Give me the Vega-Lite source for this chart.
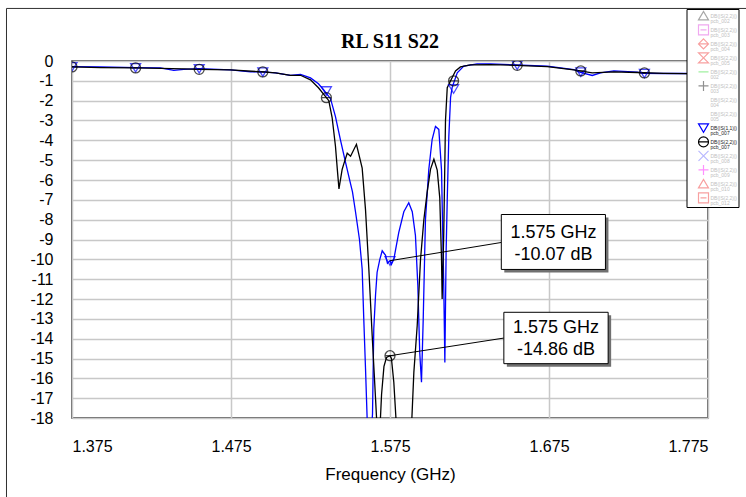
{
  "$schema": "https://vega.github.io/schema/vega-lite/v6.json",
  "width": 636,
  "height": 357,
  "autosize": "none",
  "padding": {"left": 72, "top": 61, "right": 38, "bottom": 79},
  "background": "white",
  "title": {"text": "RL S11 S22", "font": "Liberation Serif", "fontSize": 20, "fontWeight": "bold", "color": "black", "anchor": "middle", "offset": 8, "dy": 52},
  "datasets": {
    "curves": [
      {"s":"S11 pcb_007","f":1.375,"db":-0.28},{"s":"S11 pcb_007","f":1.3929,"db":-0.3},{"s":"S11 pcb_007","f":1.4149,"db":-0.33},{"s":"S11 pcb_007","f":1.4306,"db":-0.35},{"s":"S11 pcb_007","f":1.439,"db":-0.47},{"s":"S11 pcb_007","f":1.4453,"db":-0.42},{"s":"S11 pcb_007","f":1.4546,"db":-0.38},{"s":"S11 pcb_007","f":1.4747,"db":-0.45},{"s":"S11 pcb_007","f":1.4873,"db":-0.55},{"s":"S11 pcb_007","f":1.4948,"db":-0.55},{"s":"S11 pcb_007","f":1.503,"db":-0.6},{"s":"S11 pcb_007","f":1.5124,"db":-0.72},{"s":"S11 pcb_007","f":1.5187,"db":-0.68},{"s":"S11 pcb_007","f":1.525,"db":-0.85},{"s":"S11 pcb_007","f":1.53,"db":-1.15},{"s":"S11 pcb_007","f":1.5332,"db":-1.45},{"s":"S11 pcb_007","f":1.5376,"db":-1.9},{"s":"S11 pcb_007","f":1.5407,"db":-2.8},{"s":"S11 pcb_007","f":1.5439,"db":-4.0},{"s":"S11 pcb_007","f":1.547,"db":-5.1},{"s":"S11 pcb_007","f":1.5502,"db":-6.2},{"s":"S11 pcb_007","f":1.5514,"db":-6.6},{"s":"S11 pcb_007","f":1.5533,"db":-7.6},{"s":"S11 pcb_007","f":1.5558,"db":-9.0},{"s":"S11 pcb_007","f":1.5575,"db":-10.5},{"s":"S11 pcb_007","f":1.5585,"db":-13.0},{"s":"S11 pcb_007","f":1.5596,"db":-15.5},{"s":"S11 pcb_007","f":1.5607,"db":-18.2},{"s":"S11 pcb_007","f":1.5621,"db":-20},{"s":"S11 pcb_007","f":1.564,"db":-17.8},{"s":"S11 pcb_007","f":1.5648,"db":-13.5},{"s":"S11 pcb_007","f":1.5659,"db":-11.8},{"s":"S11 pcb_007","f":1.5669,"db":-10.65},{"s":"S11 pcb_007","f":1.5686,"db":-10.0},{"s":"S11 pcb_007","f":1.5701,"db":-9.57},{"s":"S11 pcb_007","f":1.5722,"db":-9.8},{"s":"S11 pcb_007","f":1.5734,"db":-10.2},{"s":"S11 pcb_007","f":1.575,"db":-10.07},{"s":"S11 pcb_007","f":1.5759,"db":-10.25},{"s":"S11 pcb_007","f":1.5774,"db":-10.0},{"s":"S11 pcb_007","f":1.5805,"db":-8.65},{"s":"S11 pcb_007","f":1.5837,"db":-7.6},{"s":"S11 pcb_007","f":1.5868,"db":-7.15},{"s":"S11 pcb_007","f":1.589,"db":-7.6},{"s":"S11 pcb_007","f":1.591,"db":-8.8},{"s":"S11 pcb_007","f":1.5925,"db":-11.3},{"s":"S11 pcb_007","f":1.5937,"db":-14.7},{"s":"S11 pcb_007","f":1.5948,"db":-16.2},{"s":"S11 pcb_007","f":1.5959,"db":-13.0},{"s":"S11 pcb_007","f":1.5973,"db":-8.0},{"s":"S11 pcb_007","f":1.5994,"db":-5.47},{"s":"S11 pcb_007","f":1.6015,"db":-3.96},{"s":"S11 pcb_007","f":1.6036,"db":-3.3},{"s":"S11 pcb_007","f":1.6057,"db":-3.45},{"s":"S11 pcb_007","f":1.6074,"db":-5.5},{"s":"S11 pcb_007","f":1.6088,"db":-11.3},{"s":"S11 pcb_007","f":1.6095,"db":-15.2},{"s":"S11 pcb_007","f":1.6103,"db":-9.6},{"s":"S11 pcb_007","f":1.611,"db":-7.0},{"s":"S11 pcb_007","f":1.612,"db":-3.8},{"s":"S11 pcb_007","f":1.6131,"db":-1.83},{"s":"S11 pcb_007","f":1.6141,"db":-1.33},{"s":"S11 pcb_007","f":1.6173,"db":-0.6},{"s":"S11 pcb_007","f":1.6214,"db":-0.26},{"s":"S11 pcb_007","f":1.6298,"db":-0.14},{"s":"S11 pcb_007","f":1.6382,"db":-0.14},{"s":"S11 pcb_007","f":1.6539,"db":-0.2},{"s":"S11 pcb_007","f":1.6739,"db":-0.26},{"s":"S11 pcb_007","f":1.6906,"db":-0.43},{"s":"S11 pcb_007","f":1.6937,"db":-0.55},{"s":"S11 pcb_007","f":1.7022,"db":-0.73},{"s":"S11 pcb_007","f":1.7074,"db":-0.6},{"s":"S11 pcb_007","f":1.7158,"db":-0.5},{"s":"S11 pcb_007","f":1.7305,"db":-0.56},{"s":"S11 pcb_007","f":1.7342,"db":-0.62},{"s":"S11 pcb_007","f":1.747,"db":-0.63},{"s":"S11 pcb_007","f":1.7608,"db":-0.63},{"s":"S11 pcb_007","f":1.775,"db":-0.65},
      {"s":"S22 pcb_007","f":1.375,"db":-0.3},{"s":"S22 pcb_007","f":1.3929,"db":-0.33},{"s":"S22 pcb_007","f":1.4149,"db":-0.35},{"s":"S22 pcb_007","f":1.4306,"db":-0.37},{"s":"S22 pcb_007","f":1.4453,"db":-0.4},{"s":"S22 pcb_007","f":1.4546,"db":-0.42},{"s":"S22 pcb_007","f":1.4747,"db":-0.45},{"s":"S22 pcb_007","f":1.4948,"db":-0.55},{"s":"S22 pcb_007","f":1.503,"db":-0.6},{"s":"S22 pcb_007","f":1.5124,"db":-0.72},{"s":"S22 pcb_007","f":1.5187,"db":-0.72},{"s":"S22 pcb_007","f":1.525,"db":-0.95},{"s":"S22 pcb_007","f":1.53,"db":-1.35},{"s":"S22 pcb_007","f":1.535,"db":-1.85},{"s":"S22 pcb_007","f":1.5365,"db":-2.0},{"s":"S22 pcb_007","f":1.5386,"db":-2.85},{"s":"S22 pcb_007","f":1.5407,"db":-4.3},{"s":"S22 pcb_007","f":1.5418,"db":-5.4},{"s":"S22 pcb_007","f":1.5429,"db":-6.45},{"s":"S22 pcb_007","f":1.5449,"db":-5.47},{"s":"S22 pcb_007","f":1.5459,"db":-5.2},{"s":"S22 pcb_007","f":1.5481,"db":-4.65},{"s":"S22 pcb_007","f":1.5502,"db":-4.8},{"s":"S22 pcb_007","f":1.5539,"db":-4.2},{"s":"S22 pcb_007","f":1.5575,"db":-5.4},{"s":"S22 pcb_007","f":1.5596,"db":-7.5},{"s":"S22 pcb_007","f":1.5617,"db":-10.5},{"s":"S22 pcb_007","f":1.5638,"db":-13.85},{"s":"S22 pcb_007","f":1.5659,"db":-17.0},{"s":"S22 pcb_007","f":1.5675,"db":-19.5},{"s":"S22 pcb_007","f":1.5687,"db":-18.5},{"s":"S22 pcb_007","f":1.5697,"db":-16.8},{"s":"S22 pcb_007","f":1.5712,"db":-15.4},{"s":"S22 pcb_007","f":1.5728,"db":-14.95},{"s":"S22 pcb_007","f":1.575,"db":-14.86},{"s":"S22 pcb_007","f":1.5759,"db":-15.0},{"s":"S22 pcb_007","f":1.5774,"db":-16.2},{"s":"S22 pcb_007","f":1.5791,"db":-18.5},{"s":"S22 pcb_007","f":1.5816,"db":-20},{"s":"S22 pcb_007","f":1.5866,"db":-20},{"s":"S22 pcb_007","f":1.5885,"db":-18.5},{"s":"S22 pcb_007","f":1.59,"db":-15.7},{"s":"S22 pcb_007","f":1.5921,"db":-13.35},{"s":"S22 pcb_007","f":1.5942,"db":-10.0},{"s":"S22 pcb_007","f":1.5963,"db":-8.0},{"s":"S22 pcb_007","f":1.5984,"db":-6.6},{"s":"S22 pcb_007","f":1.6005,"db":-5.45},{"s":"S22 pcb_007","f":1.6026,"db":-4.95},{"s":"S22 pcb_007","f":1.6047,"db":-5.5},{"s":"S22 pcb_007","f":1.6063,"db":-6.9},{"s":"S22 pcb_007","f":1.6074,"db":-10.0},{"s":"S22 pcb_007","f":1.6078,"db":-12.0},{"s":"S22 pcb_007","f":1.6088,"db":-8.7},{"s":"S22 pcb_007","f":1.6099,"db":-3.0},{"s":"S22 pcb_007","f":1.611,"db":-1.35},{"s":"S22 pcb_007","f":1.6131,"db":-1.0},{"s":"S22 pcb_007","f":1.6162,"db":-0.5},{"s":"S22 pcb_007","f":1.6193,"db":-0.3},{"s":"S22 pcb_007","f":1.6256,"db":-0.2},{"s":"S22 pcb_007","f":1.6382,"db":-0.18},{"s":"S22 pcb_007","f":1.6539,"db":-0.22},{"s":"S22 pcb_007","f":1.6739,"db":-0.28},{"s":"S22 pcb_007","f":1.6906,"db":-0.45},{"s":"S22 pcb_007","f":1.7022,"db":-0.6},{"s":"S22 pcb_007","f":1.7158,"db":-0.55},{"s":"S22 pcb_007","f":1.7305,"db":-0.58},{"s":"S22 pcb_007","f":1.747,"db":-0.62},{"s":"S22 pcb_007","f":1.775,"db":-0.65}
    ],
    "markers": [
      {"s":"S11 pcb_007","f":1.375,"db":-0.28},{"s":"S11 pcb_007","f":1.415,"db":-0.33},{"s":"S11 pcb_007","f":1.455,"db":-0.38},{"s":"S11 pcb_007","f":1.495,"db":-0.55},{"s":"S11 pcb_007","f":1.535,"db":-1.5},{"s":"S11 pcb_007","f":1.575,"db":-10.07},{"s":"S11 pcb_007","f":1.615,"db":-1.4},{"s":"S11 pcb_007","f":1.655,"db":-0.2},{"s":"S11 pcb_007","f":1.695,"db":-0.55},{"s":"S11 pcb_007","f":1.735,"db":-0.62},
      {"s":"S22 pcb_007","f":1.375,"db":-0.3},{"s":"S22 pcb_007","f":1.415,"db":-0.35},{"s":"S22 pcb_007","f":1.455,"db":-0.42},{"s":"S22 pcb_007","f":1.495,"db":-0.55},{"s":"S22 pcb_007","f":1.535,"db":-1.85},{"s":"S22 pcb_007","f":1.575,"db":-14.86},{"s":"S22 pcb_007","f":1.615,"db":-1.0},{"s":"S22 pcb_007","f":1.655,"db":-0.22},{"s":"S22 pcb_007","f":1.695,"db":-0.5},{"s":"S22 pcb_007","f":1.735,"db":-0.6}
    ],
    "notes": [
      {"x1":1.645,"x2":1.7105,"y1":-7.74,"y2":-10.51,"xc":1.6778,"yc":-8.67,"label":"1.575 GHz\n-10.07 dB","mf":1.575,"mdb":-10.07,"lf":1.645,"ldb":-9.15},
      {"x1":1.6466,"x2":1.7122,"y1":-12.67,"y2":-15.26,"xc":1.6794,"yc":-13.46,"label":"1.575 GHz\n-14.86 dB","mf":1.575,"mdb":-14.86,"lf":1.6466,"ldb":-13.97}
    ],
    "frame": [
      {"a":1.3338,"b":1.3338,"c":2.65,"d":-26},
      {"a":1.3338,"b":1.95,"c":2.65,"d":2.65}
    ]
  },
  "layer": [
    {
      "data": {"name": "frame"},
      "mark": {"type": "rule", "clip": false, "color": "#303030", "strokeWidth": 1},
      "encoding": {
        "x": {"field": "a", "type": "quantitative", "scale": {"domain": [1.375, 1.775], "nice": false, "zero": false}, "axis": {"values": [1.375, 1.475, 1.575, 1.675, 1.775], "tickCount": 10, "format": ".3f", "title": "Frequency (GHz)"}},
        "x2": {"field": "b"},
        "y": {"field": "c", "type": "quantitative", "scale": {"domain": [-18, 0], "nice": false, "zero": false}, "axis": {"values": [0,-1,-2,-3,-4,-5,-6,-7,-8,-9,-10,-11,-12,-13,-14,-15,-16,-17,-18], "tickCount": 30, "format": "d", "title": null, "labelOverlap": false, "labelExpr": "replace(datum.label, '\u2212', '-')"}},
        "y2": {"field": "d"}
      }
    },
    {
      "data": {"name": "curves"},
      "mark": {"type": "line", "clip": true, "strokeWidth": 1.3},
      "encoding": {
        "x": {"field": "f", "type": "quantitative"},
        "y": {"field": "db", "type": "quantitative"},
        "color": {"field": "s", "type": "nominal",
          "scale": {"domain": ["pcb_002","pcb_003","pcb_004","pcb_005","002","003","004","005","S11 pcb_007","S22 pcb_007","pcb_008","pcb_009","pcb_010","pcb_012"], "range": ["#a8a8a8","#f0a8f0","#f8a0a0","#f8a0a0","#a0f0a0","#909090","#ffffff","#ffffff","#0000ff","#000000","#b8b8ff","#ff90ff","#f8a0a0","#f8a0a0"]},
          "legend": {
            "orient": "none", "legendX": 614.5, "legendY": -52, "title": null,
            "padding": 1, "fillColor": "white", "strokeColor": "black",
            "symbolSize": 100, "symbolStrokeWidth": 1.2, "symbolOffset": 10,
            "labelFontSize": 5, "labelFont": "Liberation Sans", "labelOffset": 1, "rowPadding": 0, "clipHeight": 11.8, "labelLimit": 60,
            "labelExpr": "[indexof(datum.value, 'S11') >= 0 ? 'DB(|S(1,1)|)' : 'DB(|S(2,2)|)', replace(replace(datum.value, 'S11 ', ''), 'S22 ', '')]",
            "encode": {"labels": {"update": {"fill": {"signal": "indexof(datum.value, 'pcb_007') >= 0 ? '#222222' : '#c0c0c0'"}, "lineHeight": {"value": 5}}}}
          }
        }
      }
    },
    {
      "data": {"name": "markers"},
      "mark": {"type": "point", "clip": true, "filled": false, "strokeWidth": 1.3, "size": 100},
      "encoding": {
        "x": {"field": "f", "type": "quantitative"},
        "y": {"field": "db", "type": "quantitative"},
        "color": {"field": "s", "type": "nominal",
          "legend": {
            "orient": "none", "legendX": 614.5, "legendY": -52, "title": null,
            "padding": 1, "fillColor": "white", "strokeColor": "black",
            "symbolSize": 100, "symbolStrokeWidth": 1.2, "symbolOffset": 10,
            "labelFontSize": 5, "labelFont": "Liberation Sans", "labelOffset": 1, "rowPadding": 0, "clipHeight": 11.8, "labelLimit": 60,
            "labelExpr": "[indexof(datum.value, 'S11') >= 0 ? 'DB(|S(1,1)|)' : 'DB(|S(2,2)|)', replace(replace(datum.value, 'S11 ', ''), 'S22 ', '')]",
            "encode": {"labels": {"update": {"fill": {"signal": "indexof(datum.value, 'pcb_007') >= 0 ? '#222222' : '#c0c0c0'"}, "lineHeight": {"value": 5}}}}
          }
        },
        "shape": {"field": "s", "type": "nominal",
          "scale": {"domain": ["pcb_002","pcb_003","pcb_004","pcb_005","002","003","004","005","S11 pcb_007","S22 pcb_007","pcb_008","pcb_009","pcb_010","pcb_012"], "range": ["M-1,0.8L0,-0.9L1,0.8Z","M-1,-1H1V1H-1ZM-0.6,0H0.6","M0,-1L1,0L0,1L-1,0ZM-1,0H1","M-1,-1H1L-1,1H1Z","M-1,0H1","M-1,0H1M0,-1V1","M0,0","M0,0","M-1,-0.8H1L0,0.9Z","M-1,0A1,1,0,1,1,1,0A1,1,0,1,1,-1,0ZM-1,0H1","M-1,-1L1,1M-1,1L1,-1","M-1,0H1M0,-1V1","M-1,0.8L0,-0.9L1,0.8Z","M-1,-1H1V1H-1ZM-0.6,0H0.6"]},
          "legend": {
            "orient": "none", "legendX": 614.5, "legendY": -52, "title": null,
            "padding": 1, "fillColor": "white", "strokeColor": "black",
            "symbolSize": 100, "symbolStrokeWidth": 1.2, "symbolOffset": 10,
            "labelFontSize": 5, "labelFont": "Liberation Sans", "labelOffset": 1, "rowPadding": 0, "clipHeight": 11.8, "labelLimit": 60,
            "labelExpr": "[indexof(datum.value, 'S11') >= 0 ? 'DB(|S(1,1)|)' : 'DB(|S(2,2)|)', replace(replace(datum.value, 'S11 ', ''), 'S22 ', '')]",
            "encode": {"labels": {"update": {"fill": {"signal": "indexof(datum.value, 'pcb_007') >= 0 ? '#222222' : '#c0c0c0'"}, "lineHeight": {"value": 5}}}}
          }
        }
      }
    },
    {
      "data": {"name": "notes"},
      "mark": {"type": "rule", "color": "black", "strokeWidth": 1},
      "encoding": {
        "x": {"field": "mf", "type": "quantitative"},
        "x2": {"field": "lf"},
        "y": {"field": "mdb", "type": "quantitative"},
        "y2": {"field": "ldb"}
      }
    },
    {
      "data": {"name": "notes"},
      "mark": {"type": "rect", "fill": "#707070", "xOffset": 3, "x2Offset": 3, "yOffset": 3, "y2Offset": 3},
      "encoding": {
        "x": {"field": "x1", "type": "quantitative"},
        "x2": {"field": "x2"},
        "y": {"field": "y1", "type": "quantitative"},
        "y2": {"field": "y2"}
      }
    },
    {
      "data": {"name": "notes"},
      "mark": {"type": "rect", "fill": "white", "stroke": "black", "strokeWidth": 1},
      "encoding": {
        "x": {"field": "x1", "type": "quantitative"},
        "x2": {"field": "x2"},
        "y": {"field": "y1", "type": "quantitative"},
        "y2": {"field": "y2"}
      }
    },
    {
      "data": {"name": "notes"},
      "mark": {"type": "text", "font": "Liberation Sans", "fontSize": 18, "lineHeight": 22, "lineBreak": "\n", "align": "center", "baseline": "middle", "color": "black"},
      "encoding": {
        "x": {"field": "xc", "type": "quantitative"},
        "y": {"field": "yc", "type": "quantitative"},
        "text": {"field": "label"}
      }
    }
  ],
  "config": {
    "view": {"stroke": "#303030", "strokeWidth": 1.5},
    "axis": {
      "domain": false, "ticks": false, "grid": true, "gridColor": "#c8c8c8", "gridWidth": 1.5,
      "labelFont": "Liberation Sans", "labelFontSize": 16, "labelColor": "black",
      "titleFont": "Liberation Sans", "titleFontSize": 17, "titleFontWeight": "normal", "titleColor": "black"
    },
    "axisX": {"labelPadding": 20, "titlePadding": 12},
    "axisY": {"labelPadding": 19, "labelOverlap": false}
  }
}
